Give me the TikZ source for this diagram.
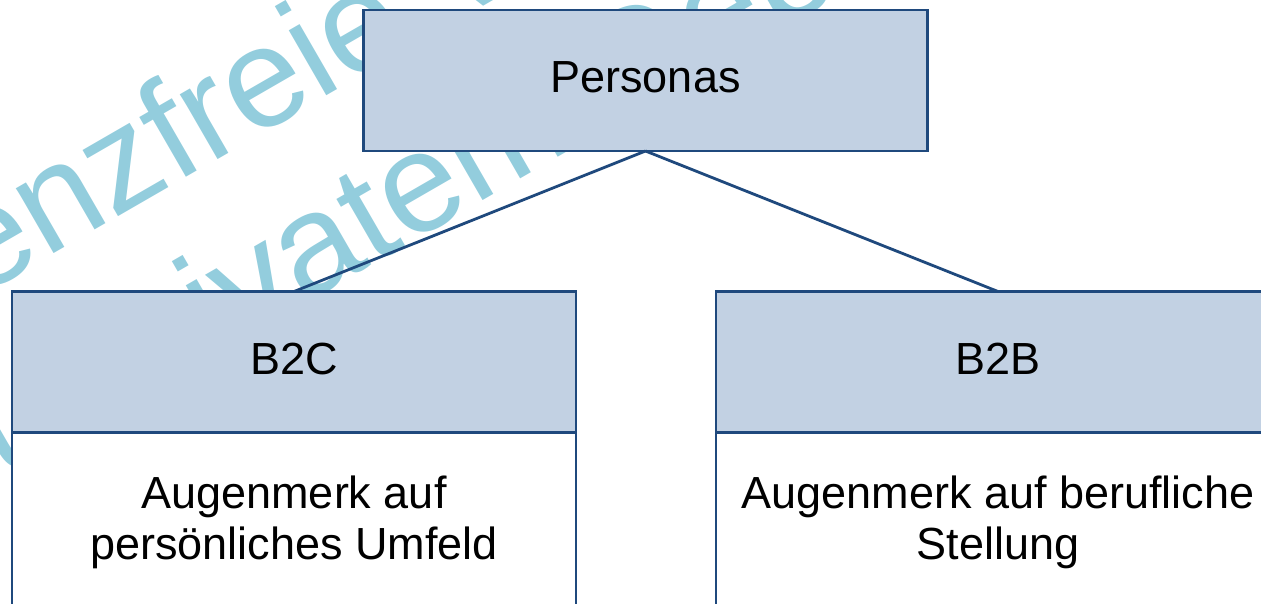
\documentclass[tikz,border=0pt]{standalone}
\usepackage{fontspec}
\setmainfont{Liberation Sans}
\definecolor{boxfill}{RGB}{194,209,227}
\definecolor{boxline}{RGB}{31,73,125}
\definecolor{wmark}{RGB}{147,205,221}
\begin{document}
\begin{tikzpicture}[x=1pt,y=-1pt,
  every node/.style={font=\fontsize{45}{51}\selectfont, inner sep=0pt, outer sep=0pt},
  headbox/.style={draw=boxline, fill=boxfill, line width=2.4pt,
    minimum width=564pt, minimum height=141pt, text depth=6pt},
  bodybox/.style={draw=boxline, fill=white, line width=2.4pt,
    minimum width=564pt, minimum height=180pt, align=center},
  link/.style={draw=boxline, line width=2.8pt},
  wm/.style={text=wmark, rotate=30, anchor=base west,
    font=\fontsize{142}{170}\selectfont}]
\useasboundingbox (0,0) rectangle (1261,603);
\clip (0,0) rectangle (1261,603);
% background stamp
\node[wm] (wm1) at (-180,389) {Lizenzfreie Version};
\node[wm] (wm2) at (-270,636) {nur zu privatem Gebrauch};
% root
\node[headbox] (personas) at (645.5,80.5) {Personas};
% left branch
\node[headbox] (b2c) at (294,362) {B2C};
\node[bodybox, anchor=north] (b2cbody) at (b2c.south)
  {Augenmerk auf\\persönliches Umfeld};
% right branch
\node[headbox] (b2b) at (998,362) {B2B};
\node[bodybox, anchor=north] (b2bbody) at (b2b.south)
  {Augenmerk auf berufliche\\Stellung};
% connectors
\draw[link] (personas.south) -- (b2c.north);
\draw[link] (personas.south) -- (b2b.north);
\end{tikzpicture}
\end{document}
